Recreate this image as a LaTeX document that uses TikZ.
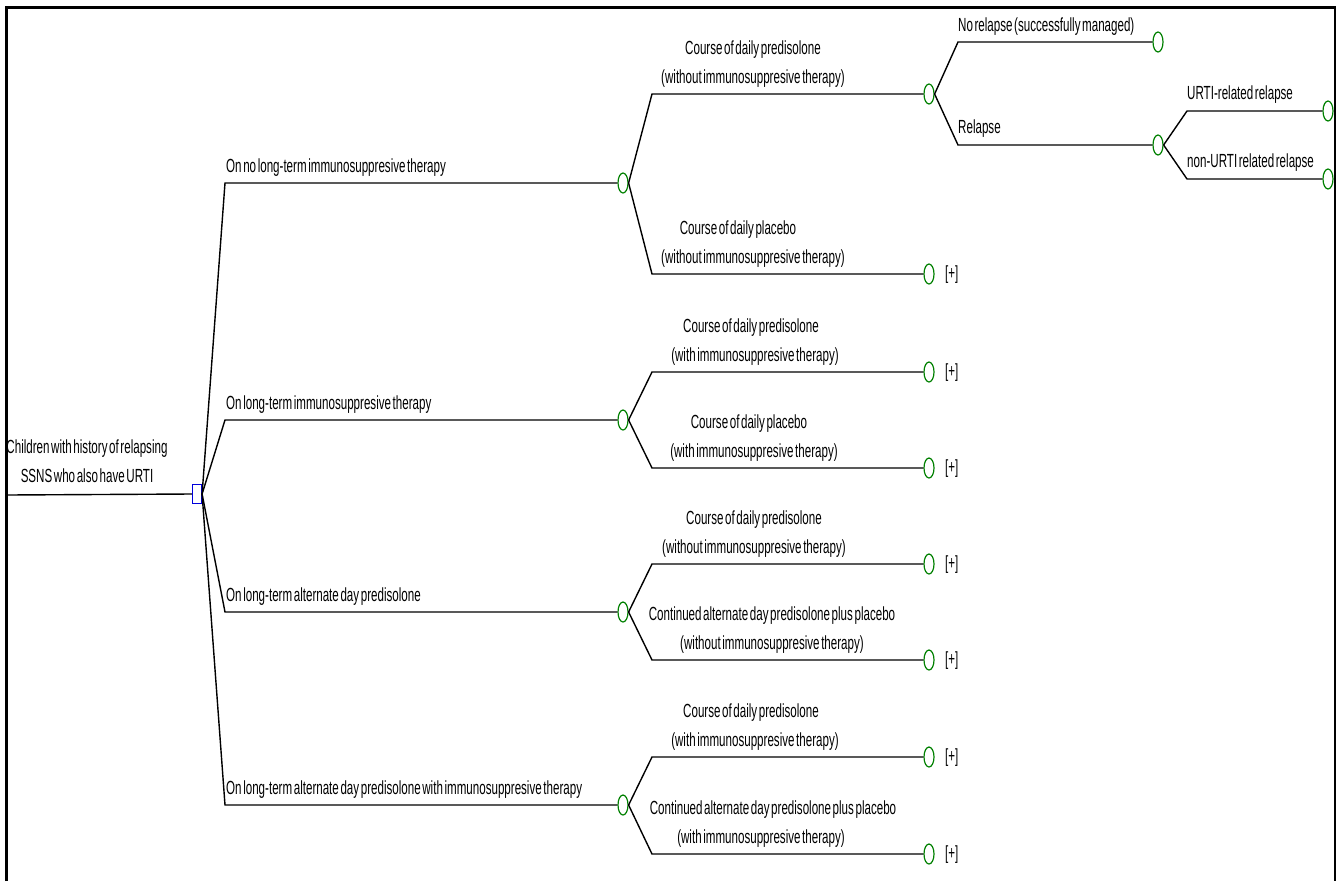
\documentclass[tikz,border=0pt]{standalone}
\usepackage{fontspec}
\setmainfont{Liberation Sans}[FakeStretch=0.61,WordSpace=0.5]
\usetikzlibrary{shapes.geometric}
\definecolor{chgreen}{RGB}{0,128,0}
\definecolor{sqblue}{RGB}{0,0,220}
\newcommand{\lblfont}{\fontsize{19}{29}\selectfont}
\begin{document}
\begin{tikzpicture}[x=1pt,y=-1pt,
  br/.style={line width=1.4pt, black},
  chance/.style={ellipse, draw=chgreen, line width=1.2pt, minimum width=10pt, minimum height=20pt, inner sep=0pt},
  dec/.style={rectangle, draw=sqblue, line width=1.2pt, minimum width=9pt, minimum height=19pt, inner sep=0pt},
  lab/.style={anchor=base west, inner sep=0pt, font=\lblfont},
  labtwo/.style={anchor=south, align=center, inner sep=0pt, text depth=0pt, font=\lblfont},
  plus/.style={anchor=west, inner sep=0pt, font=\lblfont}]
\useasboundingbox (0,0) rectangle (1341,881);
% frame
\draw[line width=2.5pt] (6.5,881) -- (6.5,7.5) -- (1335,7.5) -- (1335,881);
% root
\coordinate (rootL) at (7,495);
\node[dec] (d0) at (197,494) {};
\draw[br] (rootL) -- (d0.west);
\node[labtwo] (l0) at (87,483) {Children with history of relapsing\\SSNS who also have URTI};
% level 1
\coordinate (a1) at (225,183); \node[chance] (c1) at (623,183) {};
\coordinate (a2) at (225,420); \node[chance] (c2) at (623,420) {};
\coordinate (a3) at (225,612); \node[chance] (c3) at (623,612) {};
\coordinate (a4) at (225,805); \node[chance] (c4) at (623,805) {};
\foreach \i in {1,2,3,4} { \draw[br] (d0.east) -- (a\i) -- (c\i.west); }
\node[lab] (l1) at (226,172) {On no long-term immunosuppresive therapy};
\node[lab] (l2) at (226,409) {On long-term immunosuppresive therapy};
\node[lab] (l3) at (226,601) {On long-term alternate day predisolone};
\node[lab] (l4) at (226,794) {On long-term alternate day predisolone with immunosuppresive therapy};
% level 2
\coordinate (b11) at (652,94);  \node[chance] (c11) at (929,94) {};
\coordinate (b12) at (652,274); \node[chance] (c12) at (929,274) {};
\coordinate (b21) at (652,372); \node[chance] (c21) at (929,372) {};
\coordinate (b22) at (652,468); \node[chance] (c22) at (929,468) {};
\coordinate (b31) at (652,564); \node[chance] (c31) at (929,564) {};
\coordinate (b32) at (652,660); \node[chance] (c32) at (929,660) {};
\coordinate (b41) at (652,757); \node[chance] (c41) at (929,757) {};
\coordinate (b42) at (652,854); \node[chance] (c42) at (929,854) {};
\foreach \i in {1,2,3,4} { \foreach \j in {1,2} { \draw[br] (c\i.east) -- (b\i\j) -- (c\i\j.west); } }
\node[labtwo] (l11) at (753,84) {Course of daily predisolone\\(without immunosuppresive therapy)};
\node[labtwo] (l12) at (753,264) {Course of daily placebo\hspace*{30pt}\\(without immunosuppresive therapy)};
\node[labtwo] (l21) at (755,362) {Course of daily predisolone\hspace*{8pt}\\(with immunosuppresive therapy)};
\node[labtwo] (l22) at (754,458) {Course of daily placebo\hspace*{10pt}\\(with immunosuppresive therapy)};
\node[labtwo] (l31) at (754,554) {Course of daily predisolone\\(without immunosuppresive therapy)};
\node[labtwo] (l32) at (772,650) {Continued alternate day predisolone plus placebo\\(without immunosuppresive therapy)};
\node[labtwo] (l41) at (755,747) {Course of daily predisolone\hspace*{8pt}\\(with immunosuppresive therapy)};
\node[labtwo] (l42) at (773,844) {Continued alternate day predisolone plus placebo\\(with immunosuppresive therapy)\hspace*{24pt}};
\node[plus] (p12) at (945,275) {[+]};
\node[plus] (p21) at (945,373) {[+]};
\node[plus] (p22) at (945,469) {[+]};
\node[plus] (p31) at (945,565) {[+]};
\node[plus] (p32) at (945,661) {[+]};
\node[plus] (p41) at (945,758) {[+]};
\node[plus] (p42) at (945,855) {[+]};
% level 3
\coordinate (e1) at (958,42);  \node[chance] (c111) at (1158,42) {};
\coordinate (e2) at (958,145); \node[chance] (c112) at (1158,145) {};
\draw[br] (c11.east) -- (e1) -- (c111.west);
\draw[br] (c11.east) -- (e2) -- (c112.west);
\node[lab] (l111) at (958,31) {No relapse (successfully managed)};
\node[lab] (l112) at (958,133) {Relapse};
% level 4
\coordinate (f1) at (1187,111); \node[chance] (c1121) at (1328,111) {};
\coordinate (f2) at (1187,179); \node[chance] (c1122) at (1328,179) {};
\draw[br] (c112.east) -- (f1) -- (c1121.west);
\draw[br] (c112.east) -- (f2) -- (c1122.west);
\node[lab] (l1121) at (1187,99) {URTI-related relapse};
\node[lab] (l1122) at (1187,167) {non-URTI related relapse};
\end{tikzpicture}
\end{document}
